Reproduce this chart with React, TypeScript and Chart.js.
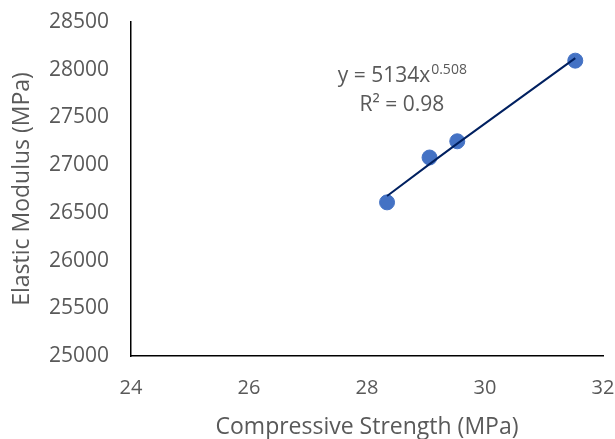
import React, { useEffect, useRef } from "react";
import { Chart, registerables } from "chart.js";

Chart.register(...registerables);

const strength = [28.34, 29.06, 29.53, 31.53];
const modulus = [26610, 27080, 27250, 28095];
const xTicks = [24, 26, 28, 30, 32];
const yTicks = [25000, 25500, 26000, 26500, 27000, 27500, 28000, 28500];
const eqCoef = "5134";
const eqExp = "0.508";
const rSquared = "0.98";

const FONT = "'Open Sans', sans-serif";
const GREY = "#595959";

function powerFit(xs: number[], ys: number[]) {
  const n = xs.length;
  const lx = xs.map(Math.log);
  const ly = ys.map(Math.log);
  const mx = lx.reduce((a, b) => a + b, 0) / n;
  const my = ly.reduce((a, b) => a + b, 0) / n;
  let sxy = 0, sxx = 0;
  for (let i = 0; i < n; i++) {
    sxy += (lx[i] - mx) * (ly[i] - my);
    sxx += (lx[i] - mx) ** 2;
  }
  const b = sxy / sxx;
  const a = Math.exp(my - b * mx);
  return (x: number) => a * Math.pow(x, b);
}

const fit = powerFit(strength, modulus);
const trend = strength.map((x) => ({ x, y: fit(x) }));

const labelPlugin = {
  id: "eqLabel",
  afterDatasetsDraw(chart: any) {
    const { ctx, scales } = chart;
    const cx = scales.x.getPixelForValue(28.59);
    const y1 = scales.y.getPixelForValue(27871);
    const y2 = scales.y.getPixelForValue(27567);
    ctx.save();
    ctx.fillStyle = GREY;
    ctx.textBaseline = "alphabetic";
    const main = `y = ${eqCoef}x`;
    ctx.font = `21px ${FONT}`;
    const wMain = ctx.measureText(main).width;
    ctx.font = `14px ${FONT}`;
    const wExp = ctx.measureText(eqExp).width;
    const start = cx - (wMain + wExp) / 2;
    ctx.textAlign = "left";
    ctx.font = `21px ${FONT}`;
    ctx.fillText(main, start, y1);
    ctx.font = `14px ${FONT}`;
    ctx.fillText(eqExp, start + wMain + 1, y1 - 8);
    ctx.font = `21px ${FONT}`;
    ctx.textAlign = "center";
    ctx.fillText(`R² = ${rSquared}`, cx, y2);
    ctx.restore();
  },
};

export default function App() {
  const ref = useRef<HTMLCanvasElement | null>(null);
  useEffect(() => {
    if (!ref.current) return;
    const chart = new Chart(ref.current, {
      type: "scatter",
      data: {
        datasets: [
          {
            type: "line",
            data: trend,
            borderColor: "#002060",
            borderWidth: 2,
            pointRadius: 0,
            fill: false,
            tension: 0,
          } as any,
          {
            data: strength.map((x, i) => ({ x, y: modulus[i] })),
            backgroundColor: "#4472C4",
            borderColor: "#4472C4",
            pointRadius: 7.5,
          },
        ],
      },
      options: {
        animation: false,
        responsive: false,
        layout: { padding: { top: 22, right: 12, left: 0, bottom: 0 } },
        plugins: { legend: { display: false }, tooltip: { enabled: false } },
        scales: {
          x: {
            type: "linear",
            min: 24,
            max: 32,
            afterBuildTicks: (s: any) => {
              s.ticks = xTicks.map((v) => ({ value: v }));
            },
            afterFit: (s: any) => {
              s.height = 83;
              s.paddingRight = 0;
              s.paddingLeft = 0;
            },
            grid: { display: false, drawTicks: false },
            border: { color: "#000", width: 1.5 },
            ticks: { color: GREY, font: { family: FONT, size: 20 }, padding: 20 },
            title: {
              display: true,
              text: "Compressive Strength (MPa)",
              color: GREY,
              font: { family: FONT, size: 23, lineHeight: 1 },
              padding: { top: 4, bottom: 0 },
            },
          },
          y: {
            type: "linear",
            min: 25000,
            max: 28500,
            afterBuildTicks: (s: any) => {
              s.ticks = yTicks.map((v) => ({ value: v }));
            },
            afterFit: (s: any) => {
              s.width = 131;
              s.paddingTop = 0;
              s.paddingBottom = 0;
            },
            grid: { display: false, drawTicks: false },
            border: { color: "#000", width: 1.5 },
            ticks: { color: GREY, font: { family: FONT, size: 21 }, padding: 22, callback: (v: any) => String(v) },
            title: {
              display: true,
              text: "Elastic Modulus (MPa)",
              color: GREY,
              font: { family: FONT, size: 23, lineHeight: 1 },
              padding: { top: 11, bottom: 11 },
            },
          },
        },
      },
      plugins: [labelPlugin],
    } as any);
    return () => chart.destroy();
  }, []);
  return (
    <div style={{ position: "fixed", left: 0, top: 0, width: 615, height: 439, background: "#fff" }}>
      <canvas ref={ref} width={615} height={439} style={{ width: 615, height: 439 }} />
    </div>
  );
}
